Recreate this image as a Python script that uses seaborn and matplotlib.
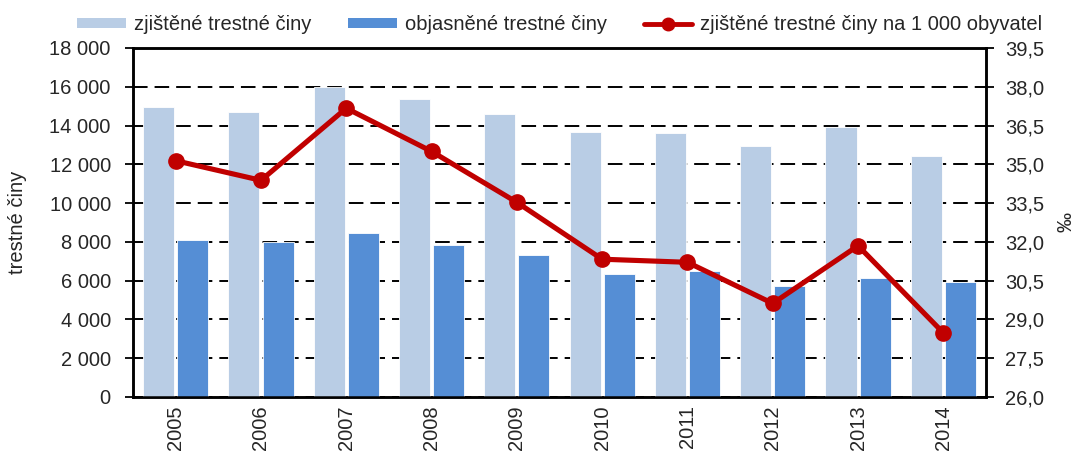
import numpy as np
import pandas as pd
import matplotlib
matplotlib.use("Agg")
import matplotlib.pyplot as plt
from matplotlib.lines import Line2D
from matplotlib.patches import Patch
import seaborn as sns

years = ["2005", "2006", "2007", "2008", "2009", "2010", "2011", "2012", "2013", "2014"]
zjistene = [14960, 14680, 15970, 15385, 14615, 13690, 13600, 12920, 13900, 12440]
objasnene = [8090, 8000, 8465, 7845, 7330, 6345, 6485, 5725, 6120, 5915]
na_1000 = [35.14, 34.38, 37.17, 35.50, 33.53, 31.33, 31.21, 29.62, 31.85, 28.48]

series_names = ["zjištěné trestné činy", "objasněné trestné činy"]
line_name = "zjištěné trestné činy na 1 000 obyvatel"
left_ticks = [0, 2000, 4000, 6000, 8000, 10000, 12000, 14000, 16000, 18000]
left_labels = ["0", "2 000", "4 000", "6 000", "8 000", "10 000", "12 000", "14 000", "16 000", "18 000"]
right_ticks = [26.0, 27.5, 29.0, 30.5, 32.0, 33.5, 35.0, 36.5, 38.0, 39.5]
right_labels = ["26,0", "27,5", "29,0", "30,5", "32,0", "33,5", "35,0", "36,5", "38,0", "39,5"]

c_light = "#B9CDE5"
c_dark = "#558ED5"
c_red = "#C00000"

sns.set_style("white")
plt.rcParams["font.family"] = ["Liberation Sans", "DejaVu Sans"]

df = pd.DataFrame({
    "rok": years * 2,
    "hodnota": zjistene + objasnene,
    "serie": [series_names[0]] * len(years) + [series_names[1]] * len(years),
})

fig = plt.figure(figsize=(10.79, 4.57), dpi=100)
ax = fig.add_axes([0.1233, 0.1313, 0.7905, 0.7637])

sns.barplot(data=df, x="rok", y="hodnota", hue="serie", order=years,
            hue_order=series_names, palette=[c_light, c_dark], saturation=1,
            width=0.8, gap=0.09, ax=ax, legend=False, edgecolor="white",
            linewidth=0.6, zorder=3)
ax.set_axisbelow(True)
ax.set_xlim(-0.5, len(years) - 0.5)
ax.set_ylim(0, 18000)
ax.set_yticks(left_ticks)
ax.set_yticklabels(left_labels, fontsize=14.5)
ax.yaxis.grid(True, linestyle=(0, (7.5, 3.6)), color="black", linewidth=1.4, zorder=0)
ax.xaxis.grid(False)
ax.set_xlabel("")
ax.set_ylabel("trestné činy", fontsize=14.5)
ax.yaxis.set_label_coords(-0.124, 0.5)
ax.set_xticks(range(len(years)))
ax.set_xticklabels(years, rotation=90, fontsize=14.5)
ax.tick_params(axis="x", which="major", length=0, pad=6)
ax.set_xticks(np.arange(-0.5, len(years), 1.0), minor=True)
ax.tick_params(axis="x", which="minor", direction="inout", length=10, width=1.3, color="black")
ax.tick_params(axis="y", direction="out", length=6, width=1.3, color="black", left=True, pad=10)

for s in ax.spines.values():
    s.set_color("black")
    s.set_linewidth(1.8)

ax2 = ax.twinx()
ax2.plot(np.arange(len(years)), na_1000, color=c_red, linewidth=3.7,
         marker="o", markersize=11, zorder=5)
ax2.set_ylim(26.0, 39.5)
ax2.set_yticks(right_ticks)
ax2.set_yticklabels(right_labels, fontsize=14.5)
ax2.tick_params(axis="y", direction="out", length=6, width=1.3, color="black", right=True, pad=8)
ax2.set_ylabel("‰", fontsize=14.5, rotation=90)
ax2.yaxis.set_label_coords(1.083, 0.5)
ax2.grid(False)
for s in ax2.spines.values():
    s.set_color("black")
    s.set_linewidth(1.8)
ax2.set_xlim(-0.5, len(years) - 0.5)

handles = [
    Patch(facecolor=c_light, edgecolor="none"),
    Patch(facecolor=c_dark, edgecolor="none"),
    Line2D([0], [0], color=c_red, linewidth=3.5, marker="o", markersize=9),
]
labels = series_names + [line_name]
fig.legend(handles, labels, loc="center", bbox_to_anchor=(0.519, 0.946), ncol=3,
           frameon=False, fontsize=14.5, handlelength=2.4, handleheight=0.45,
           handletextpad=0.4, columnspacing=1.85, borderaxespad=0)

fig.savefig("out.png", dpi=100)
